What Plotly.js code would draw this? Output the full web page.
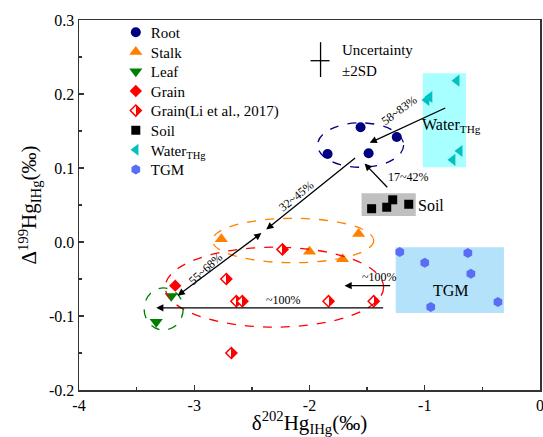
<!DOCTYPE html>
<html><head><meta charset="utf-8">
<script src="https://cdn.plot.ly/plotly-3.0.1.min.js"></script>
<style>body{margin:0;background:#fff}#c{width:543px;height:437px}</style>
</head><body><div id="c"></div>
<script>
// ---- data ----
const rootX = [-1.843, -1.557, -1.243, -1.487];
const rootY = [0.119, 0.155, 0.142, 0.120];
const stalkX = [-2.765, -2.000, -1.713, -1.574];
const stalkY = [0.004, -0.013, -0.023, 0.011];
const leafX = [-3.200, -3.330];
const leafY = [-0.073, -0.108];
const grainX = [-3.165];
const grainY = [-0.059];
const grainLiX = [-2.722, -2.635, -2.583, -2.678, -2.235, -1.835, -1.443];
const grainLiY = [-0.050, -0.080, -0.080, -0.150, -0.010, -0.080, -0.080];
const soilX = [-1.461, -1.330, -1.278, -1.139];
const soilY = [0.045, 0.047, 0.057, 0.051];
const waterX = [-0.722, -0.957, -0.983, -0.696, -0.757];
const waterY = [0.218, 0.196, 0.192, 0.123, 0.111];
const tgmX = [-1.217, -0.626, -1.000, -0.600, -0.948, -0.365];
const tgmY = [-0.0135, -0.015, -0.028, -0.043, -0.088, -0.081];
const seriesNames = ['Root','Stalk','Leaf','Grain','Grain(Li et al., 2017)','Soil','Water<sub>THg</sub>','TGM'];
const xTickVals = [-4,-3,-2,-1,0];
const xTickText = ['-4','-3','-2','-1','0'];
const yTickVals = [-0.2,-0.1,0,0.1,0.2,0.3];
const yTickText = ['-0.2','-0.1','0.0','0.1','0.2','0.3'];
// arrows: [tailX, tailY, headX, headY, label, labelX, labelY, angle, doubleHeaded]
const arrowDefs = [
  [-0.809, 0.182, -1.478, 0.134, '58~83%', -1.217, 0.178, -36, false],
  [-1.313, 0.072, -1.522, 0.106, '17~42%', -1.139, 0.088, 0, false],
  [-1.591, 0.115, -2.375, 0.017, '32~45%', -2.113, 0.062, -39, false],
  [-3.157, -0.074, -2.417, 0.012, '55~68%', -2.904, -0.036, -42, true],
  [-1.348, -0.089, -3.330, -0.089, '~100%', -2.226, -0.078, 0, false],
  [-1.287, -0.059, -1.696, -0.059, '~100%', -1.391, -0.047, 0, false]
];
// ---- end data ----

const F = "'Liberation Serif', 'Times New Roman', Times, serif";
function tr(name, x, y, symbol, color, size, extra) {
  return Object.assign({type:'scatter', mode:'markers', name:name, x:x, y:y,
    marker:{symbol:symbol, color:color, size:size, line:{width:0}}}, extra||{});
}
const traces = [
  tr(seriesNames[0], rootX, rootY, 'circle', '#000080', 10),
  tr(seriesNames[1], stalkX, stalkY, 'triangle-up', '#ff8000', 11.5),
  tr(seriesNames[2], leafX, leafY, 'triangle-down', '#008000', 11.5),
  tr(seriesNames[3], grainX, grainY, 'diamond', '#ff0000', 9.5),
  {type:'scatter', mode:'markers', name:seriesNames[4], x:grainLiX, y:grainLiY,
   marker:{symbol:'diamond', size:8.5, color:'#ffffff', gradient:{type:'horizontal', color:'#ff0000'}, line:{color:'#ff0000', width:1.5}}},
  tr(seriesNames[5], soilX, soilY, 'square', '#000000', 9),
  tr(seriesNames[6], waterX, waterY, 'triangle-left', '#00c0c0', 10.5),
  tr(seriesNames[7], tgmX, tgmY, 'hexagon', '#5a6ef5', 10)
];

const shapes = [
  {type:'rect', xref:'x', yref:'y', x0:-1.017, x1:-0.643, y0:0.101, y1:0.228, fillcolor:'#a8ffff', line:{width:0}, layer:'below'},
  {type:'rect', xref:'x', yref:'y', x0:-1.548, x1:-1.078, y0:0.035, y1:0.066, fillcolor:'#c0c0c0', line:{width:0}, layer:'below'},
  {type:'rect', xref:'x', yref:'y', x0:-1.252, x1:-0.313, y0:-0.096, y1:-0.007, fillcolor:'#b3e2fa', line:{width:0}, layer:'below'},
  {type:'circle', xref:'x', yref:'y', x0:-1.93, x1:-1.183, y0:0.101, y1:0.161, line:{color:'#000080', width:1.3, dash:'dash'}},
  {type:'circle', xref:'x', yref:'y', x0:-2.843, x1:-1.443, y0:-0.028, y1:0.032, line:{color:'#ff8000', width:1.3, dash:'dash'}},
  {type:'circle', xref:'x', yref:'y', x0:-3.252, x1:-1.357, y0:-0.115, y1:-0.007, line:{color:'#ff0000', width:1.3, dash:'dash'}},
  {type:'circle', xref:'x', yref:'y', x0:-3.435, x1:-3.096, y0:-0.119, y1:-0.062, line:{color:'#008000', width:1.3, dash:'dash'}},
  {type:'line', xref:'x', yref:'y', x0:-1.904, x1:-1.904, y0:0.223, y1:0.270, line:{color:'#000', width:1.3}},
  {type:'line', xref:'x', yref:'y', x0:-1.991, x1:-1.826, y0:0.245, y1:0.245, line:{color:'#000', width:1.3}}
];

const annotations = [];
arrowDefs.forEach(a => {
  annotations.push({xref:'x', yref:'y', axref:'x', ayref:'y', x:a[2], y:a[3], ax:a[0], ay:a[1],
    text:'', showarrow:true, arrowhead:2, arrowsize:1.1, arrowwidth:1.3, arrowcolor:'#000',
    arrowside: a[8] ? 'end+start' : 'end', standoff:0, startstandoff:0});
  annotations.push({xref:'x', yref:'y', x:a[5], y:a[6], text:a[4], showarrow:false, textangle:a[7],
    font:{family:F, size:12, color:'#000'}});
});
annotations.push({xref:'x', yref:'y', x:-1.739, y:0.259, xanchor:'left', text:'Uncertainty', showarrow:false, font:{family:F, size:15, color:'#000'}});
annotations.push({xref:'x', yref:'y', x:-1.739, y:0.231, xanchor:'left', text:'±2SD', showarrow:false, font:{family:F, size:15, color:'#000'}});
annotations.push({xref:'x', yref:'y', x:-0.765, y:0.157, text:'Water<sub>THg</sub>', showarrow:false, font:{family:F, size:16, color:'#000'}});
annotations.push({xref:'x', yref:'y', x:-0.948, y:0.050, text:'Soil', showarrow:false, font:{family:F, size:16, color:'#000'}});
annotations.push({xref:'x', yref:'y', x:-0.774, y:-0.065, text:'TGM', showarrow:false, font:{family:F, size:16, color:'#000'}});

const axisCommon = {showgrid:false, zeroline:false, showline:true, mirror:true, linecolor:'#333', linewidth:1.5,
  automargin:false, ticklabeloverflow:'allow',
  ticks:'inside', ticklen:5, tickwidth:1.3, tickcolor:'#333', tickfont:{family:F, size:16, color:'#000'}};
const layout = {
  width:543, height:437, margin:{l:79, r:3, t:20, b:47},
  paper_bgcolor:'#fff', plot_bgcolor:'#fff', showlegend:true,
  font:{family:F, color:'#000'},
  xaxis:Object.assign({}, axisCommon, {range:[-4,0], tickvals:xTickVals, ticktext:xTickText,
    ticklabelshift:-2.5,
    minor:{ticks:'inside', ticklen:3, tickwidth:1.3, tickcolor:'#333', dtick:0.5, tick0:0},
    title:{text:'δ<sup>202</sup>Hg<sub>IHg</sub>(‰)', font:{family:F, size:21}, standoff:0}}),
  yaxis:Object.assign({}, axisCommon, {range:[-0.2,0.3], tickvals:yTickVals, ticktext:yTickText,
    minor:{ticks:'inside', ticklen:3, tickwidth:1.3, tickcolor:'#333', dtick:0.05, tick0:0},
    title:{text:'Δ<sup>199</sup>Hg<sub>IHg</sub>(‰)', font:{family:F, size:21}, standoff:6}}),
  legend:{x:0.069, y:1.011, xanchor:'left', yanchor:'top', bgcolor:'rgba(0,0,0,0)', font:{family:F, size:15, color:'#000'}, tracegroupgap:0, itemwidth:30},
  shapes:shapes, annotations:annotations
};

function finish() {
  // sharp half-filled diamonds
  document.querySelectorAll('linearGradient').forEach(g => {
    const stops = g.querySelectorAll('stop');
    if (stops.length < 2) return;
    const c0 = stops[0].getAttribute('stop-color');
    const c1 = stops[stops.length-1].getAttribute('stop-color');
    while (g.firstChild) g.removeChild(g.firstChild);
    [[0,c0],[0.5,c0],[0.5,c1],[1,c1]].forEach(s => {
      const st = document.createElementNS('http://www.w3.org/2000/svg','stop');
      st.setAttribute('offset', s[0]); st.setAttribute('stop-color', s[1]);
      g.appendChild(st);
    });
  });
  // tighter legend rows, symbols a bit closer to text
  const items = document.querySelectorAll('.legend .traces');
  let y0 = null;
  items.forEach((it, i) => {
    const m = /translate\(([-\d.]+)[ ,]+([-\d.]+)\)/.exec(it.getAttribute('transform') || '');
    if (!m) return;
    if (y0 === null) y0 = parseFloat(m[2]);
    it.setAttribute('transform', 'translate(' + m[1] + ',' + (y0 + i * 19.6) + ')');
  });
  document.querySelectorAll('.legend .legendsymbols').forEach(s => s.setAttribute('transform', 'translate(5,0)'));
}
Plotly.newPlot('c', traces, layout, {displayModeBar:false, staticPlot:true}).then(finish);
</script></body></html>
